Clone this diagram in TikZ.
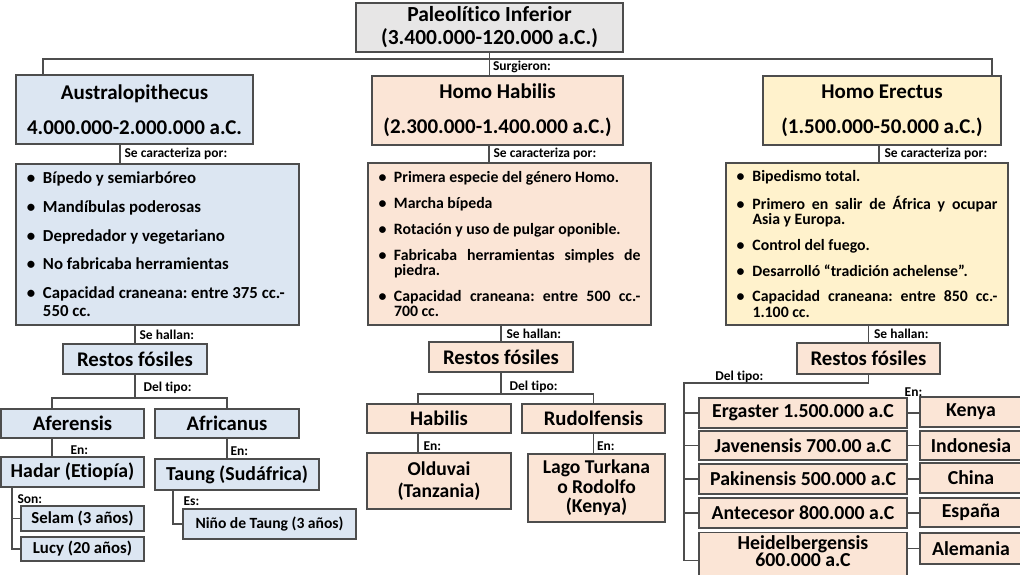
\documentclass[tikz,border=0pt]{standalone}
\usepackage{fontspec}
\setmainfont{Carlito}[Ligatures=NoCommon]
\usetikzlibrary{positioning}

\definecolor{ausblue}{HTML}{DCE6F2}
\definecolor{habpeach}{HTML}{FBE5D6}
\definecolor{ereyellow}{HTML}{FFF2CC}
\definecolor{topgray}{HTML}{E7E6E6}
\definecolor{edge}{HTML}{4D4D4D}

\hyphenpenalty=10000
\frenchspacing
\lineskiplimit=-100pt
\newlength\bulhang
\newcommand\itm[1]{\noindent\hangindent=\bulhang\hangafter=1\makebox[\bulhang][l]{\textbullet}#1\par}

\tikzset{
  box/.style={draw=edge, line width=1.3pt, inner sep=0pt, align=center},
  aus/.style={box, fill=ausblue},
  hab/.style={box, fill=habpeach},
  ere/.style={box, fill=ereyellow},
  sz/.style 2 args={font=\bfseries\fontsize{#1}{#2}\selectfont},
  lbl/.style={sz={13.5}{15}, inner sep=1pt},
  link/.style={draw=edge, line width=1.2pt},
}

\begin{document}
\begin{tikzpicture}[x=1pt, y=-1pt]
  \useasboundingbox (0,0) rectangle (1020,574);

  % top row
  \node[box, fill=topgray, sz={21.5}{23}, minimum width=267pt, minimum height=49pt] (paleo) at (489.5,27.5) {Paleolítico Inferior\\(3.400.000-120.000 a.C.)};
  \node[aus, sz={21}{35}, minimum width=237pt, minimum height=69pt] (austr) at (134.5,109.5) {Australopithecus\\4.000.000-2.000.000 a.C.};
  \node[hab, sz={21}{35}, minimum width=251pt, minimum height=69pt] (habilis) at (497.5,110.5) {Homo Habilis\\(2.300.000-1.400.000 a.C.)};
  \node[ere, sz={21}{35}, minimum width=238pt, minimum height=69pt] (erectus) at (882,110.5) {Homo Erectus\\(1.500.000-50.000 a.C.)};

  \coordinate (busL) at (43,59);
  \coordinate (busR) at (992,59);
  \draw[link] (austr.north -| busL) -- (busL) -- (busR) -- (erectus.north -| busR);
  \draw[link] (paleo.south) -- node[lbl, right=2pt, pos=0.63] {Surgieron:} (paleo.south |- habilis.north);

  % lists
  \node[aus, sz={16.8}{18.5}, align=justify, text width=261pt, minimum width=283pt, minimum height=161pt,
    execute at begin node={\setlength\bulhang{16pt}\setlength\parskip{10.2pt}}] (auslist) at (157.5,244.5)
    {\itm{Bípedo y semiarbóreo}
     \itm{Mandíbulas poderosas}
     \itm{Depredador y vegetariano}
     \itm{No fabricaba herramientas}
     \itm{Capacidad craneana: entre 375 cc.-\newline 550 cc.}};
  \node[hab, sz={15.8}{15.2}, align=justify, text width=262pt, minimum width=283pt, minimum height=162pt,
    execute at begin node={\setlength\bulhang{15.5pt}\setlength\parskip{10.6pt}}] (hablist) at (509.5,244)
    {\itm{Primera especie del género Homo.}
     \itm{Marcha bípeda}
     \itm{Rotación y uso de pulgar oponible.}
     \itm{Fabricaba herramientas simples de\linebreak piedra.}
     \itm{Capacidad craneana: entre 500 cc.-\linebreak 700 cc.}};
  \node[ere, sz={15.8}{15.2}, align=justify, text width=261pt, minimum width=282pt, minimum height=162pt,
    execute at begin node={\setlength\bulhang{16pt}\setlength\parskip{10.6pt}}] (erelist) at (867,244)
    {\itm{Bipedismo total.}
     \itm{Primero en salir de África y ocupar\linebreak Asia y Europa.}
     \itm{Control del fuego.}
     \itm{Desarrolló “tradición achelense”.}
     \itm{Capacidad craneana: entre 850 cc.-\linebreak 1.100 cc.}};

  \draw[link] ([xshift=-14.5pt]austr.south) -- node[lbl, right=3pt] {Se caracteriza por:} ([xshift=-14.5pt]austr.south |- auslist.north);
  \draw[link] ([xshift=-8.5pt]habilis.south) -- node[lbl, right=3pt] {Se caracteriza por:} ([xshift=-8.5pt]habilis.south |- hablist.north);
  \draw[link] ([xshift=-3pt]erectus.south) -- node[lbl, right=4pt] {Se caracteriza por:} ([xshift=-3pt]erectus.south |- erelist.north);

  % fossils
  \node[aus, sz={20.8}{22}, minimum width=144pt, minimum height=30pt] (ausfos) at (135,359) {Restos fósiles};
  \node[hab, sz={20.8}{22}, minimum width=144pt, minimum height=30pt] (habfos) at (501,357) {Restos fósiles};
  \node[hab, sz={20.8}{22}, minimum width=143pt, minimum height=31pt] (erefos) at (868.5,358.5) {Restos fósiles};

  \draw[link] (ausfos.north |- auslist.south) -- node[lbl, right=3pt] {Se hallan:} (ausfos.north);
  \draw[link] (habfos.north |- hablist.south) -- node[lbl, right=4pt] {Se hallan:} (habfos.north);
  \draw[link] (erefos.north |- erelist.south) -- node[lbl, right=4pt] {Se hallan:} (erefos.north);

  % Australopithecus branch
  \node[aus, sz={20.7}{22}, minimum width=143pt, minimum height=29pt] (afer) at (72.5,423.5) {Aferensis};
  \node[aus, sz={20.7}{22}, minimum width=144pt, minimum height=29pt] (afric) at (227,423.5) {Africanus};
  \node[aus, sz={19.8}{22}, minimum width=143pt, minimum height=30pt] (hadar) at (72.5,472) {Hadar (Etiopía)};
  \node[aus, sz={19.8}{22}, minimum width=164pt, minimum height=31pt] (taung) at (237,474.5) {Taung (Sudáfrica)};
  \node[aus, sz={16.8}{18}, minimum width=123pt, minimum height=25pt] (selam) at (82.5,518.5) {Selam (3 años)};
  \node[aus, sz={16.8}{18}, minimum width=123pt, minimum height=24pt] (lucy) at (82.5,549) {Lucy (20 años)};
  \node[aus, sz={15.6}{18}, minimum width=173pt, minimum height=30pt] (nino) at (269.5,524) {Niño de Taung (3 años)};

  \coordinate (ausbus) at (135,398);
  \draw[link] (ausfos.south) -- node[lbl, right=7pt, pos=0.55] {Del tipo:} (ausbus);
  \draw[link] ([xshift=-20.5pt]afer.north) |- (ausbus) -| (afric.north);
  \draw[link] ([xshift=-20.5pt]afer.south) -- node[lbl, right=17pt, pos=0.63] {En:} ([xshift=-20.5pt]afer.south |- hadar.north);
  \draw[link] (afric.south) -- node[lbl, right=2pt, pos=0.62] {En:} (afric.south |- taung.north);
  \draw[link] ([xshift=-60.5pt]hadar.south) |- node[lbl, right=4pt, pos=0.09] {Son:} (lucy.west);
  \draw[link] ([xshift=-60.5pt]hadar.south |- selam.west) -- (selam.west);
  \draw[link] ([xshift=-64pt]taung.south) |- node[lbl, right=9pt, pos=0.16] {Es:} (nino.west);

  % Homo Habilis branch
  \node[hab, sz={20.7}{22}, minimum width=144pt, minimum height=29pt] (habil) at (439,418.5) {Habilis};
  \node[hab, sz={20.7}{22}, minimum width=143pt, minimum height=29pt] (rudolf) at (593.5,418.5) {Rudolfensis};
  \node[hab, sz={19.6}{22}, minimum width=144pt, minimum height=56pt] (olduvai) at (439,481) {Olduvai\\(Tanzania)};
  \node[hab, sz={19.6}{19.5}, minimum width=137pt, minimum height=68pt] (lago) at (596.5,488) {Lago Turkana\\o Rodolfo\\(Kenya)};

  \coordinate (habbus) at (501,394);
  \draw[link] (habfos.south) -- node[lbl, right=7pt, pos=0.68] {Del tipo:} (habbus);
  \draw[link] ([xshift=-21pt]habil.north) |- (habbus) -| (rudolf.north);
  \draw[link] ([xshift=-21pt]habil.south) -- node[lbl, right=4pt, pos=0.65] {En:} ([xshift=-21pt]habil.south |- olduvai.north);
  \draw[link] (rudolf.south) -- node[lbl, right=2pt, pos=0.62] {En:} (rudolf.south |- lago.north);

  % Homo Erectus branch
  \node[hab, sz={19.8}{22}, minimum width=208pt, minimum height=30pt] (erg) at (803,413) {Ergaster 1.500.000 a.C};
  \node[hab, sz={19.8}{22}, minimum width=208pt, minimum height=29pt] (jav) at (803,445.5) {Javenensis 700.00 a.C};
  \node[hab, sz={19.8}{22}, minimum width=208pt, minimum height=30pt] (pak) at (803,479) {Pakinensis 500.000 a.C};
  \node[hab, sz={19.8}{22}, minimum width=208pt, minimum height=30pt] (ant) at (803,513) {Antecesor 800.000 a.C};
  \node[hab, sz={19.8}{16.7}, anchor=north] (heid) at (803,532)
    {\begin{minipage}[t][56pt][t]{208pt}\centering\vspace{2.5pt}Heidelbergensis\\600.000 a.C\end{minipage}};

  \node[hab, sz={19.8}{22}, minimum width=102pt, minimum height=30pt] (ken) at (971,412) {Kenya};
  \node[hab, sz={19.8}{22}, minimum width=102pt, minimum height=29pt] (indo) at (971,445.5) {Indonesia};
  \node[hab, sz={19.8}{22}, minimum width=102pt, minimum height=30pt] (chi) at (971,478) {China};
  \node[hab, sz={19.8}{22}, minimum width=102pt, minimum height=29pt] (esp) at (971,512.5) {España};
  \node[hab, sz={19.8}{22}, minimum width=102pt, minimum height=31pt] (ale) at (971,548.5) {Alemania};

  \coordinate (erebus) at (684,383);
  \draw[link] (erefos.south) |- node[lbl, above=-1pt, pos=0.85] {Del tipo:} (erebus) -- (erebus |- heid.west);
  \foreach \n in {erg,jav,pak,ant,heid}
    \draw[link] (erebus |- \n.west) -- (\n.west);
  \draw[link] (erg.east) -- node[lbl, above=15pt] {En:} (erg.east -| ken.west);
  \foreach \a/\b in {jav/indo, pak/chi, ant/esp}
    \draw[link] (\a.east) -- (\a.east -| \b.west);
  \draw[link] (heid.east |- ale.west) -- (ale.west);
\end{tikzpicture}
\end{document}
